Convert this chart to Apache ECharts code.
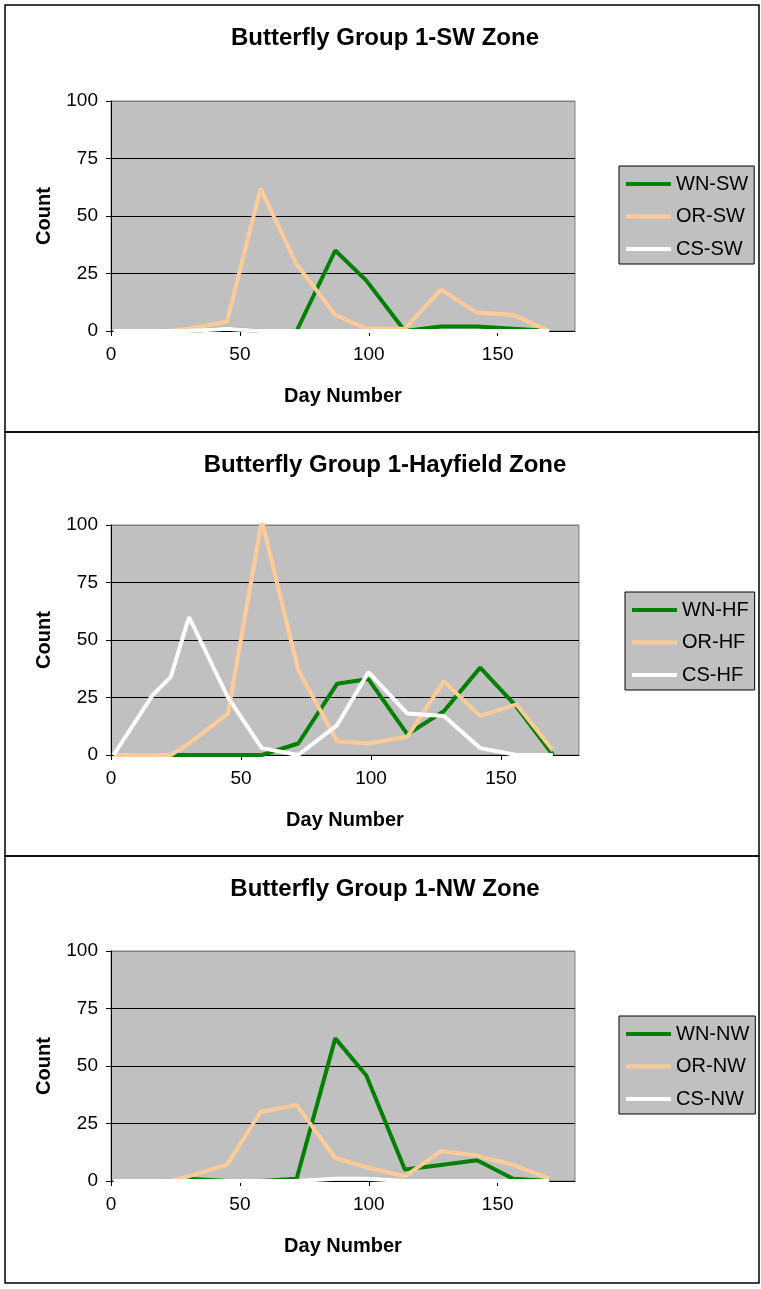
<!DOCTYPE html>
<html>
<head>
<meta charset="utf-8">
<script src="https://cdn.jsdelivr.net/npm/echarts@6/dist/echarts.min.js"></script>
<style>
html,body{margin:0;padding:0;background:#fff;}
#c{width:761px;height:1289px;}
</style>
</head>
<body>
<div id="c"></div>
<script>
// ---- data ----
const days = [1, 16, 23, 30, 45, 58, 72, 87, 99, 114, 128, 142, 156, 170];
const xTicks = [0, 50, 100, 150];

const titles = ['Butterfly Group 1-SW Zone', 'Butterfly Group 1-Hayfield Zone', 'Butterfly Group 1-NW Zone'];

const namesSW = ['WN-SW', 'OR-SW', 'CS-SW'];
const wnSW = [0, 0, 0, 0, 1, 0, 0, 35, 22, 0, 2, 2, 1, 0];
const orSW = [0, 0, 0, 1, 4, 62, 29, 7, 1, 1, 18, 8, 7, 0];
const csSW = [0, 0, 0, 0, 1, 0, 0, 0, 0, 0, 0, 0, 0, 0];

const namesHF = ['WN-HF', 'OR-HF', 'CS-HF'];
const wnHF = [0, 0, 0, 0, 0, 0, 5, 31, 33, 9, 19, 38, 21, 0];
const orHF = [0, 0, 0, 5, 18, 102, 37, 6, 5, 8, 32, 17, 22, 2];
const csHF = [0, 26, 34, 60, 25, 3, 0, 13, 36, 18, 17, 3, 0, 0];

const namesNW = ['WN-NW', 'OR-NW', 'CS-NW'];
const wnNW = [0, 0, 0, 1, 0, 0, 1, 62, 46, 5, 7, 9, 1, 0];
const orNW = [0, 0, 0, 2, 7, 30, 33, 10, 6, 2, 13, 11, 7, 1];
const csNW = [0, 0, 0, 0, 0, 0, 0, 1, 1, 0, 0, 0, 0, 0];

const colors = ['#008000', '#FFCC99', '#FFFFFF'];

// ---- layout ----
const FONT = 'Liberation Sans, Arial, sans-serif';
const panels = [
  {y: 5, h: 427, grid: {left: 111, top: 101, width: 464, height: 230}, legend: {left: 619, top: 166}, names: namesSW, data: [wnSW, orSW, csSW]},
  {y: 432, h: 424, grid: {left: 111, top: 525, width: 468, height: 230}, legend: {left: 625, top: 592}, names: namesHF, data: [wnHF, orHF, csHF]},
  {y: 856, h: 427, grid: {left: 111, top: 951, width: 464, height: 230}, legend: {left: 619, top: 1016}, names: namesNW, data: [wnNW, orNW, csNW]}
];

const option = {
  animation: false,
  backgroundColor: '#ffffff',
  title: [], grid: [], xAxis: [], yAxis: [], legend: [], series: [],
  graphic: []
};

panels.forEach((p, i) => {
  option.graphic.push({
    type: 'rect', z: -10,
    shape: {x: 5, y: p.y, width: 754, height: p.h},
    style: {fill: 'none', stroke: '#000', lineWidth: 1.5}
  });
  option.graphic.push({
    type: 'text', z: 10,
    style: {
      text: titles[i], x: 385, y: p.y + 33, align: 'center', verticalAlign: 'middle',
      font: 'bold 24px ' + FONT, fill: '#000'
    }
  });
  option.grid.push(Object.assign({show: true, backgroundColor: '#C0C0C0', borderColor: '#808080', borderWidth: 1}, p.grid));
  option.xAxis.push({
    type: 'value', gridIndex: i, min: 0, max: 180, interval: 50,
    name: 'Day Number', nameLocation: 'middle', nameGap: 55,
    nameTextStyle: {fontFamily: FONT, fontWeight: 'bold', fontSize: 20, color: '#000'},
    axisLine: {show: true, onZero: false, lineStyle: {color: '#000', width: 1}},
    axisTick: {show: true, length: 5, lineStyle: {color: '#000'}, customValues: xTicks},
    axisLabel: {fontFamily: FONT, fontSize: 19, color: '#000', margin: 14, customValues: xTicks},
    splitLine: {show: false}
  });
  option.yAxis.push({
    type: 'value', gridIndex: i, min: 0, max: 100, interval: 25,
    name: 'Count', nameLocation: 'middle', nameGap: 57, nameRotate: 90,
    nameTextStyle: {fontFamily: FONT, fontWeight: 'bold', fontSize: 20, color: '#000'},
    axisLine: {show: true, lineStyle: {color: '#000', width: 1}},
    axisTick: {show: true, length: 5, lineStyle: {color: '#000'}},
    axisLabel: {fontFamily: FONT, fontSize: 19, color: '#000', margin: 13},
    splitLine: {show: true, lineStyle: {color: ['#000', '#000', '#000', '#000', '#808080'], width: 1}}
  });
  option.legend.push({
    orient: 'vertical', left: p.legend.left, top: p.legend.top,
    data: p.names, icon: 'rect', itemWidth: 45, itemHeight: 4, itemGap: 12.5,
    padding: [8, 6, 5, 7],
    backgroundColor: '#C0C0C0', borderColor: '#000', borderWidth: 1,
    textStyle: {fontFamily: FONT, fontSize: 20, color: '#000', lineHeight: 18},
    selectedMode: false
  });
  p.names.forEach((n, k) => {
    option.series.push({
      type: 'line', name: n, xAxisIndex: i, yAxisIndex: i,
      data: days.map((d, j) => [d, p.data[k][j]]),
      symbol: 'none', showSymbol: false,
      color: colors[k],
      lineStyle: {color: colors[k], width: 4},
      itemStyle: {color: colors[k]}
    });
  });
});

const chart = echarts.init(document.getElementById('c'), null, {renderer: 'canvas'});
chart.setOption(option);
</script>
</body>
</html>
